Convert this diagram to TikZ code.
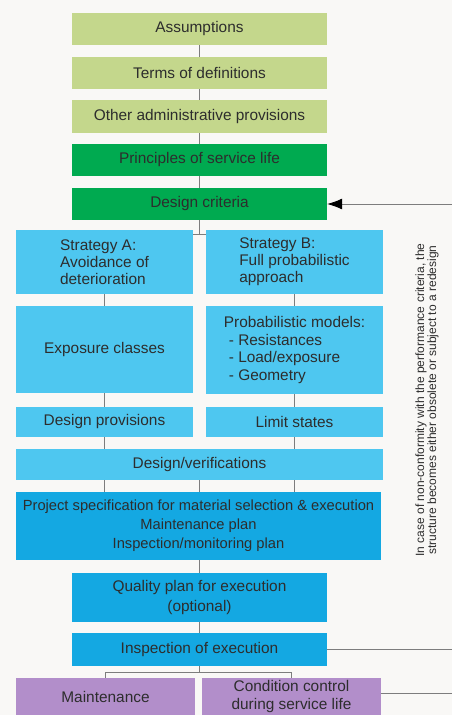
\documentclass[tikz,border=0pt]{standalone}
\usepackage{fontspec}
\setmainfont{Liberation Sans}
\usepackage{tikz}
\usetikzlibrary{arrows.meta, positioning, calc}
\definecolor{palegreen}{RGB}{196,215,140}
\definecolor{deepgreen}{RGB}{0,170,80}
\definecolor{lightblue}{RGB}{78,199,240}
\definecolor{midblue}{RGB}{20,168,226}
\definecolor{lilac}{RGB}{178,142,202}
\definecolor{textgray}{RGB}{45,45,45}
\definecolor{linegray}{RGB}{125,125,125}
\definecolor{paper}{RGB}{249,248,246}

\begin{document}
\begin{tikzpicture}[x=1pt, y=-1pt,
    box/.style={rectangle, fill=#1, text=textgray, inner sep=0pt, align=center, font=\fontsize{15.4}{18}\selectfont},
    wide/.style={minimum width=255pt},
    half/.style={minimum width=177pt},
    conn/.style={draw=linegray, line width=0.8pt},
    arrow/.style={conn, -{Latex[length=15pt, width=11pt, color=black]}}
]
    % Page
    \fill[paper] (0,0) rectangle (452,715);
    \useasboundingbox (0,0) rectangle (452,715);
    \coordinate (rim) at (452,0);

    % General part
    \node[box=palegreen, wide, minimum height=32pt] (assump) at (199.5,29) {Assumptions};
    \node[box=palegreen, wide, minimum height=32pt] (terms) at (199.5,73) {Terms of definitions};
    \node[box=palegreen, wide, minimum height=33pt] (admin) at (199.5,116.5) {Other administrative provisions};
    \node[box=deepgreen, wide, minimum height=32pt] (princ) at (199.5,160) {Principles of service life};
    \node[box=deepgreen, wide, minimum height=32pt] (crit) at (199.5,204) {Design criteria};

    % Strategies
    \node[box=lightblue, half, minimum height=64pt, align=left, font=\fontsize{15.4}{17}\selectfont] (stratA) at (104.5,262) {Strategy A:\\Avoidance of\\deterioration};
    \node[box=lightblue, half, minimum height=64pt, align=left, font=\fontsize{15.4}{17}\selectfont] (stratB) at (294.5,262) {Strategy B:\\Full probabilistic\\approach};
    \node[box=lightblue, half, minimum height=87pt] (expo) at (104.5,349.5) {Exposure classes};
    \node[box=lightblue, half, minimum height=88pt, align=left, font=\fontsize{15.4}{17.5}\selectfont] (probm) at (294.5,350) {Probabilistic models:\\\hspace{5pt}- Resistances\\\hspace{5pt}- Load/exposure\\\hspace{5pt}- Geometry};
    \node[box=lightblue, half, minimum height=30pt] (prov) at (104.5,422) {Design provisions};
    \node[box=lightblue, half, minimum height=30pt] (limit) at (294.5,422) {Limit states};
    \node[box=lightblue, minimum width=367pt, minimum height=31pt] (verif) at (199.5,464.5) {Design/verifications};

    % Execution
    \node[box=midblue, minimum width=365pt, minimum height=68pt, font=\fontsize{14.7}{19}\selectfont] (spec) at (198.5,526) {Project specification for material selection \& execution\\Maintenance plan\\Inspection/monitoring plan};
    \node[box=midblue, wide, minimum height=49pt, font=\fontsize{15.4}{20}\selectfont] (quality) at (199.5,597.5) {Quality plan for execution\\(optional)};
    \node[box=midblue, wide, minimum height=33pt] (inspect) at (199.5,649.5) {Inspection of execution};

    % Service life
    \node[box=lilac, minimum width=179pt, minimum height=37pt] (maint) at (105.5,696.5) {Maintenance};
    \node[box=lilac, minimum width=179pt, minimum height=37pt] (cond) at (291.5,696.5) {Condition control\\during service life};

    % Connectors
    \draw[conn] (assump) -- (terms);
    \draw[conn] (terms) -- (admin);
    \draw[conn] (admin) -- (princ);
    \draw[conn] (princ) -- (crit);
    \draw[conn] (crit.south) -- ++(0,14) coordinate (split);
    \draw[conn] (stratA.east |- split) -- (stratB.west |- split);
    \draw[conn] (stratA) -- (expo);
    \draw[conn] (stratB) -- (probm);
    \draw[conn] (expo) -- (prov);
    \draw[conn] (probm) -- (limit);
    \draw[conn] (prov.south) -- (verif.north -| prov);
    \draw[conn] (limit.south) -- (verif.north -| limit);
    \draw[conn] (verif.south -| prov) -- (spec.north -| prov);
    \draw[conn] (verif) -- (spec.north -| verif);
    \draw[conn] (verif.south -| limit) -- (spec.north -| limit);
    \draw[conn] (spec.south -| quality) -- (quality);
    \draw[conn] (quality) -- (inspect);
    \draw[conn] (inspect.south) -- ++(0,6) coordinate (fork);
    \draw[conn] (maint.north) |- (fork) -| (cond.north);

    % Feedback
    \coordinate (back) at (452,204);
    \draw[arrow] (back) -- (crit.east);
    \draw[conn] (inspect.east) -- (inspect.east -| rim);
    \draw[conn] ($(cond.east)+(0,-3)$) -- ($(cond.east -| rim)+(0,-3)$);
    \node[rotate=90, align=center, text=textgray, font=\fontsize{12}{12}\selectfont] (note) at (427,400) {In case of non-conformity with the performance criteria, the\\structure becomes either obsolete or subject to a redesign};

\end{tikzpicture}
\end{document}
